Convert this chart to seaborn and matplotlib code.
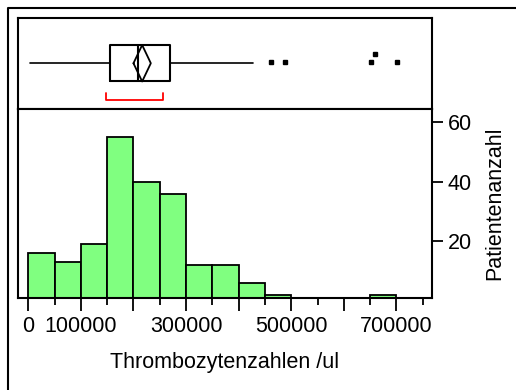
import matplotlib
matplotlib.use("Agg")
import matplotlib.pyplot as plt
from matplotlib.lines import Line2D
import seaborn as sns

# ---------------- data ----------------
bin_edges = [0, 50000, 100000, 150000, 200000, 250000, 300000, 350000,
             400000, 450000, 500000, 550000, 600000, 650000, 700000, 750000]
bin_counts = [16, 13, 19, 55, 40, 36, 12, 12, 6, 2, 0, 0, 0, 2, 1]

box_q1 = 155000
box_median = 209000
box_q3 = 269000
whisker_low = 3000
whisker_high = 428000
mean_value = 216500
mean_ci_low = 200000
mean_ci_high = 233000
shortest_half_low = 147000
shortest_half_high = 257000
outliers = [461400, 488600, 651200, 659100, 700400]

x_tick_values = [0, 100000, 200000, 300000, 400000, 500000, 600000, 700000]
x_tick_labels = ["0", "100000", "", "300000", "", "500000", "", "700000"]
x_minor_ticks = [50000, 150000, 250000, 350000, 450000, 550000, 650000, 750000]
y_tick_values = [20, 40, 60]

x_label = "Thrombozytenzahlen /ul"
y_label = "Patientenanzahl"

# ---------------- style ----------------
FS = 15.5
sns.set_style("white")
plt.rcParams["font.family"] = ["Liberation Sans", "DejaVu Sans"]
plt.rcParams["font.size"] = FS
plt.rcParams["axes.edgecolor"] = "black"
plt.rcParams["axes.labelcolor"] = "black"
plt.rcParams["xtick.color"] = "black"
plt.rcParams["ytick.color"] = "black"
plt.rcParams["text.color"] = "black"

W, H = 516, 390
fig = plt.figure(figsize=(W / 100, H / 100), dpi=100)

left, right = 18 / W, 432 / W
top_box, mid, bottom = 17.7, 108.8, 298.3
ax_box = fig.add_axes([left, 1 - mid / H, right - left, (mid - top_box) / H])
ax_hist = fig.add_axes([left, 1 - bottom / H, right - left, (bottom - mid) / H],
                       sharex=ax_box)

xlim = (-19600, 767700)

# ---------------- histogram ----------------
bin_lefts = bin_edges[:-1]
sns.histplot(x=bin_lefts, weights=bin_counts, bins=bin_edges, ax=ax_hist,
             color="#80FF80", edgecolor="black", linewidth=1.3, alpha=1.0)
ax_hist.set_xlim(*xlim)
ax_hist.set_ylim(0.87, 64.6)
ax_hist.yaxis.tick_right()
ax_hist.yaxis.set_label_position("right")
ax_hist.set_yticks(y_tick_values)
ax_hist.set_yticklabels([str(v) for v in y_tick_values])
ax_hist.set_xticks(x_tick_values)
ax_hist.set_xticklabels(x_tick_labels)
ax_hist.set_xticks(x_minor_ticks, minor=True)
ax_hist.tick_params(axis="x", which="major", length=9.6, width=1.3,
                    direction="out", pad=3, labelsize=FS, bottom=True,
                    labelcolor="black")
ax_hist.tick_params(axis="x", which="minor", length=4.8, width=1.3,
                    direction="out", bottom=True)
ax_hist.tick_params(axis="y", which="major", length=8, width=1.3,
                    direction="out", pad=3.5, labelsize=FS, right=True, left=False,
                    labelcolor="black")
ax_hist.set_xlabel(x_label, fontsize=FS, labelpad=11, color="black")
ax_hist.set_ylabel(y_label, fontsize=FS, labelpad=9, color="black")
for s in ax_hist.spines.values():
    s.set_visible(True)
    s.set_linewidth(1.5)
    s.set_color("black")

# ---------------- box plot ----------------
stats = [dict(med=box_median, q1=box_q1, q3=box_q3,
              whislo=whisker_low, whishi=whisker_high, fliers=[])]
ax_box.bxp(stats, positions=[0.5], widths=[0.4], orientation="horizontal",
           showcaps=False, showfliers=False,
           boxprops=dict(color="black", linewidth=1.5),
           whiskerprops=dict(color="black", linewidth=1.2),
           medianprops=dict(color="black", linewidth=1.5))
# means diamond
ax_box.plot([mean_ci_low, mean_value, mean_ci_high, mean_value, mean_ci_low],
            [0.5, 0.7, 0.5, 0.3, 0.5], color="black", linewidth=1.3)
# shortest half bracket
ax_box.plot([shortest_half_low, shortest_half_low, shortest_half_high, shortest_half_high],
            [0.177, 0.097, 0.097, 0.177], color="red", linewidth=1.3)
# outliers
outlier_y = [0.517, 0.517, 0.517, 0.607, 0.517]
ax_box.plot(outliers, outlier_y, linestyle="none", marker="s",
            markersize=3.4, color="black")
ax_box.set_xlim(*xlim)
ax_box.set_ylim(0, 1)
ax_box.tick_params(left=False, bottom=False, labelleft=False, labelbottom=False)
ax_box.set_ylabel("")
for s in ax_box.spines.values():
    s.set_visible(True)
    s.set_linewidth(1.5)
    s.set_color("black")

# ---------------- outer frame ----------------
fx, fy = 7.5 / W, 1 - 7.5 / H
fig.add_artist(Line2D([fx, fx, 1.01], [-0.01, fy, fy], transform=fig.transFigure,
                      color="black", linewidth=1.5))

fig.savefig("out.png", dpi=100, facecolor="white")
